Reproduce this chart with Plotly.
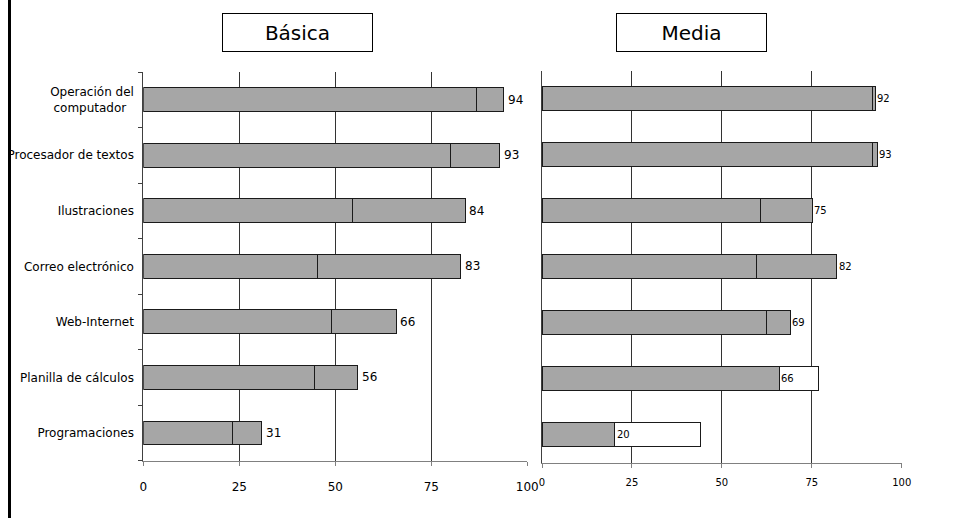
import plotly.graph_objects as go

# ---- data ----
categories = ["Operación del computador", "Procesador de textos", "Ilustraciones",
              "Correo electrónico", "Web-Internet", "Planilla de cálculos", "Programaciones"]
category_ticktext = ["Operación del<br>computador\u00a0\u00a0", "Procesador de textos", "Ilustraciones",
                     "Correo electrónico", "Web-Internet", "Planilla de cálculos", "Programaciones"]
basica_a = [86.8, 80.0, 54.4, 45.3, 49.0, 44.5, 23.2]
basica_b = [7.1, 12.8, 29.4, 37.4, 16.9, 11.3, 7.6]
basica_labels = [94, 93, 84, 83, 66, 56, 31]
media_a = [91.9, 91.9, 60.8, 59.6, 62.5, 66.0, 20.2]
media_b = [0.7, 1.3, 14.3, 22.4, 6.5, 0.0, 0.0]
media_c = [0.0, 0.0, 0.0, 0.0, 0.0, 10.8, 24.0]
media_labels = [92, 93, 75, 82, 69, 66, 20]
x_ticks = [0, 25, 50, 75, 100]
panel_titles = ["Básica", "Media"]

W, H = 959, 518
FONT = "DejaVu Sans"
GRAY = "#a6a6a6"
OUTLINE = "#1a1a1a"


def px_x(v):
    return v / W


def px_y(v):
    return 1 - v / H


fig = go.Figure()

bar_w = 0.43
common = dict(orientation="h", width=bar_w, hoverinfo="skip", showlegend=False,
              marker_line_color=OUTLINE, marker_line_width=1)

fig.add_trace(go.Bar(x=basica_a, y=categories, marker_color=GRAY, xaxis="x", yaxis="y", **common))
fig.add_trace(go.Bar(x=basica_b, y=categories, marker_color=GRAY, xaxis="x", yaxis="y", **common))
fig.add_trace(go.Bar(x=media_a, y=categories, marker_color=GRAY, xaxis="x2", yaxis="y2", **common))
fig.add_trace(go.Bar(x=media_b, y=categories, marker_color=GRAY, xaxis="x2", yaxis="y2", **common))
fig.add_trace(go.Bar(x=media_c, y=categories, marker_color="white", xaxis="x2", yaxis="y2", **common))

annotations = []
for cat, a, b, lab in zip(categories, basica_a, basica_b, basica_labels):
    annotations.append(dict(x=a + b, y=cat, xref="x", yref="y", text=str(lab), showarrow=False,
                            xanchor="left", xshift=2, font=dict(family=FONT, size=12, color="black")))
for cat, a, b, lab in zip(categories, media_a, media_b, media_labels):
    annotations.append(dict(x=a + b, y=cat, xref="x2", yref="y2", text=str(lab), showarrow=False,
                            xanchor="left", xshift=0, font=dict(family=FONT, size=10, color="black")))

title_centers = [297.5, 691.5]
for t, cx in zip(panel_titles, title_centers):
    annotations.append(dict(x=px_x(cx), y=px_y(32.5), xref="paper", yref="paper", text=t,
                            showarrow=False, xanchor="center", yanchor="middle",
                            width=147, height=35, bordercolor="black", borderwidth=1, borderpad=1,
                            bgcolor="white", font=dict(family=FONT, size=20, color="black")))

xcommon = dict(range=[0, 100], tickvals=x_ticks, ticktext=[str(v) for v in x_ticks],
               showgrid=True, gridcolor="#333333", gridwidth=1, zeroline=False,
               showline=True, linecolor="#808080", linewidth=1, automargin=False,
               ticks="outside", ticklen=4, tickcolor="#808080", fixedrange=True)

fig.update_layout(
    width=W, height=H, autosize=False,
    margin=dict(l=0, r=0, t=0, b=0, pad=0, autoexpand=False),
    paper_bgcolor="white", plot_bgcolor="white",
    barmode="stack",
    font=dict(family=FONT, size=12, color="black"),
    xaxis=dict(domain=[px_x(143.3), px_x(527.3)], anchor="y",
               tickfont=dict(family=FONT, size=12, color="black"), ticklabelstandoff=11, **xcommon),
    xaxis2=dict(domain=[px_x(542), px_x(901.7)], anchor="y2",
                tickfont=dict(family=FONT, size=10, color="black"), ticklabelstandoff=6, **xcommon),
    yaxis=dict(domain=[px_y(460.7), px_y(72)], anchor="x", type="category",
               categoryorder="array", categoryarray=categories, range=[6.5, -0.5],
               tickvals=categories, ticktext=category_ticktext, automargin=False,
               showgrid=False, zeroline=False, showline=True, linecolor="#404040", linewidth=1,
               ticks="outside", tickson="boundaries", ticklen=4, tickcolor="#404040",
               ticklabelstandoff=6, tickfont=dict(family=FONT, size=12, color="black"),
               fixedrange=True),
    yaxis2=dict(domain=[px_y(462.7), px_y(70.7)], anchor="x2", type="category",
                categoryorder="array", categoryarray=categories, range=[6.5, -0.5],
                showticklabels=False, showgrid=False, zeroline=False, automargin=False,
                showline=True, linecolor="#404040", linewidth=1, ticks="", fixedrange=True),
    annotations=annotations,
    shapes=[dict(type="line", xref="paper", yref="paper", x0=px_x(9.5), x1=px_x(9.5),
                 y0=0, y1=1, line=dict(color="black", width=3))],
)

fig.write_html("out.html", config={"displayModeBar": False, "responsive": False},
               post_script="document.body.style.margin='0';document.body.style.overflow='hidden';")
